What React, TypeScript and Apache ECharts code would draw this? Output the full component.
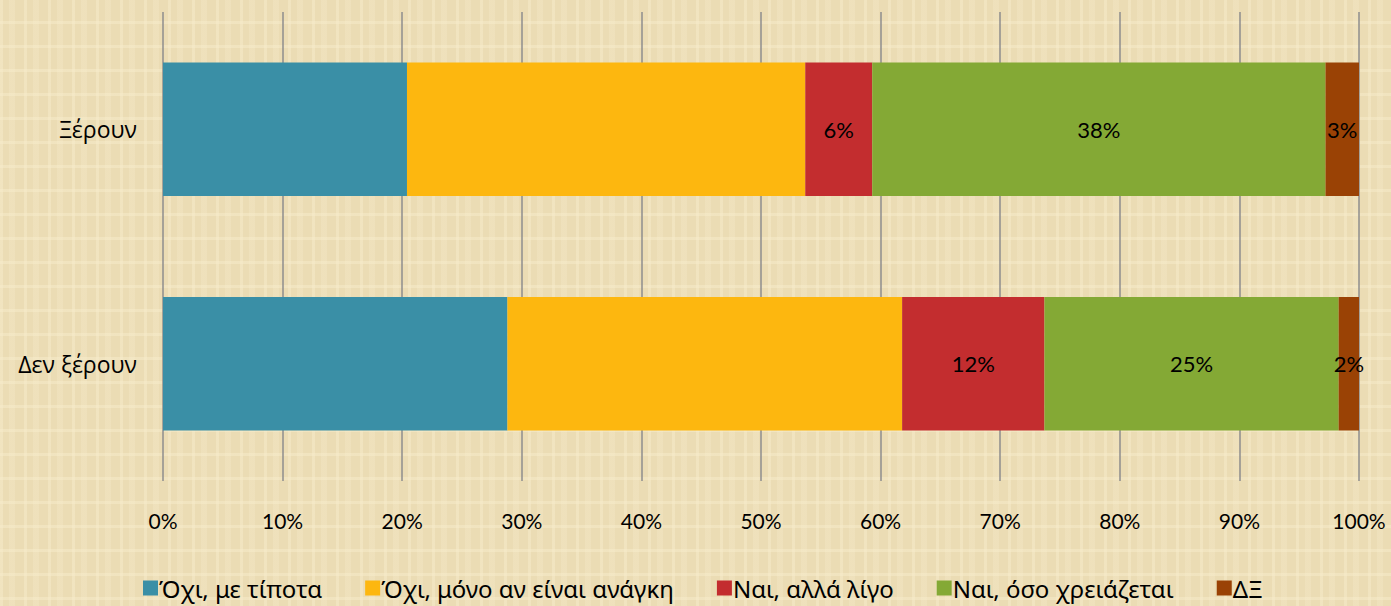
import React, { useEffect, useRef } from "react";
import * as echarts from "echarts";

const categories = ["Ξέρουν", "Δεν ξέρουν"];
const seriesNames = [
  "Όχι, με τίποτα",
  "Όχι, μόνο αν είναι ανάγκη",
  "Ναι, αλλά λίγο",
  "Ναι, όσο χρειάζεται",
  "ΔΞ",
];
const noNothing = [20.4, 28.8];
const noOnlyIfNeeded = [33.3, 33.0];
const yesLittle = [5.6, 11.9];
const yesAsNeeded = [37.9, 24.6];
const dontKnow = [2.8, 1.7];
const showLabels = [false, false, true, true, true];
const colors = ["#3A8FA6", "#FDB70F", "#C32D2F", "#84A935", "#9A4205"];
const tickLabels = ["0%", "10%", "20%", "30%", "40%", "50%", "60%", "70%", "80%", "90%", "100%"];

export default function App() {
  const ref = useRef<HTMLDivElement>(null);
  useEffect(() => {
    if (!ref.current) return;
    const chart = echarts.init(ref.current, null, { renderer: "svg" });
    const allData = [noNothing, noOnlyIfNeeded, yesLittle, yesAsNeeded, dontKnow];
    chart.setOption({
      animation: false,
      backgroundColor: "transparent",
      grid: { left: 163, right: 32, top: 12, bottom: 125, containLabel: false },
      xAxis: {
        type: "value",
        min: 0,
        max: 100,
        interval: 10,
        axisLine: { show: false },
        axisTick: { show: false },
        splitLine: { show: true, lineStyle: { color: "#8E8E8E", width: 1.5 } },
        axisLabel: {
          formatter: (v: number) => tickLabels[Math.round(v / 10)],
          fontFamily: "Lato, 'Open Sans', sans-serif",
          fontSize: 21,
          color: "#000",
          margin: 29,
        },
      },
      yAxis: {
        type: "category",
        data: categories,
        inverse: true,
        axisLine: { show: false },
        axisTick: { show: false },
        axisLabel: {
          fontFamily: "'Open Sans', 'Noto Sans', sans-serif",
          fontSize: 23,
          color: "#000",
          margin: 26,
        },
      },
      legend: {
        bottom: 1,
        left: 138,
        itemWidth: 15,
        itemHeight: 15,
        itemGap: 43,
        icon: "rect",
        textStyle: {
          fontFamily: "'Noto Sans', 'Open Sans', sans-serif",
          fontSize: 24,
          color: "#000",
          padding: [0, 0, 0, -4],
        },
        data: seriesNames,
      },
      series: seriesNames.map((name, i) => ({
        name,
        type: "bar",
        stack: "total",
        barWidth: "57%",
        data: allData[i],
        itemStyle: { color: colors[i] },
        label: {
          show: showLabels[i],
          position: "inside",
          formatter: (p: any) => Math.round(p.value) + "%",
          fontFamily: "Lato, 'Open Sans', sans-serif",
          fontSize: 22,
          color: "#000",
        },
      })),
    });
    return () => chart.dispose();
  }, []);

  const bg: React.CSSProperties = {
    position: "absolute",
    left: 0,
    top: 0,
    width: 1391,
    height: 606,
    backgroundColor: "#EBDCB4",
    backgroundImage:
      "linear-gradient(90deg, rgba(248,237,205,0.45) 3px, transparent 3px), linear-gradient(0deg, rgba(248,237,205,0.45) 3px, transparent 3px), linear-gradient(90deg, transparent 9px, rgba(243,230,196,0.45) 9px, rgba(243,230,196,0.45) 15px, transparent 15px)",
    backgroundSize: "24px 24px, 24px 24px, 24px 24px",
  };

  return (
    <div style={bg}>
      <div ref={ref} style={{ width: 1391, height: 606 }} />
    </div>
  );
}
